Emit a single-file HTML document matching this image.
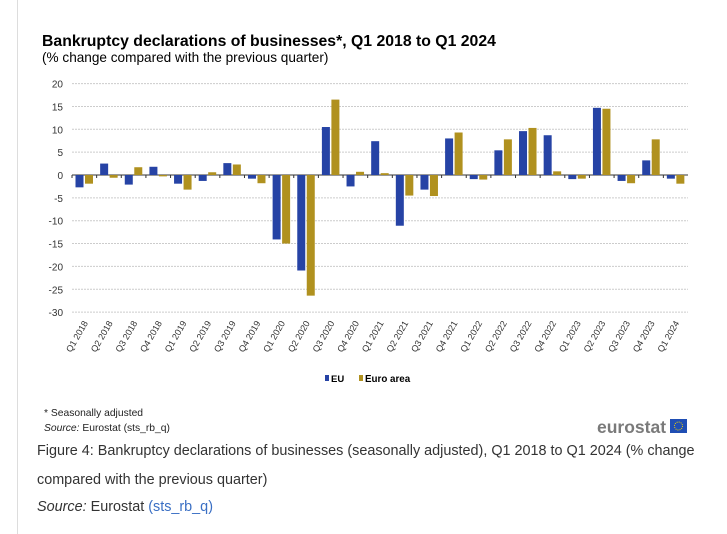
<!DOCTYPE html>
<html><head><meta charset="utf-8"><style>
body{margin:0;width:727px;height:534px;background:#fff;position:relative;overflow:hidden;font-family:"Liberation Sans",sans-serif}
.card{position:absolute;left:17px;top:0;width:709px;height:534px;border-left:1px solid #ddd}
.cap{position:absolute;left:37px;font-size:14.4px;color:#333;white-space:nowrap}
</style></head><body>
<div class="card"></div>
<svg id="c" width="727" height="440" style="position:absolute;left:0;top:0">
<text x="42" y="46" font-size="15.8" font-weight="bold" fill="#000">Bankruptcy declarations of businesses*, Q1 2018 to Q1 2024</text>
<text x="42" y="62" font-size="13.6" fill="#000">(% change compared with the previous quarter)</text>
<g id="grid"></g><g id="bars"></g><g id="xl"></g>
<g>
<rect x="325" y="375" width="4" height="6" fill="#2643a5"/>
<text x="331" y="382" font-size="9.5" font-weight="bold">EU</text>
<rect x="359" y="375" width="4" height="6" fill="#b0911f"/>
<text x="365" y="382" font-size="9.8" font-weight="bold">Euro area</text>
</g>
<text x="44" y="416" font-size="10.3" fill="#222">* Seasonally adjusted</text>
<text x="44" y="431" font-size="10.3" fill="#222"><tspan font-style="italic">Source:</tspan> Eurostat (sts_rb_q)</text>
<text x="597" y="433" font-size="17.5" font-weight="bold" fill="#7a7a7a">eurostat</text>
<rect x="670" y="419" width="17" height="14" fill="#1f4eb4"/>
<circle cx="678.5" cy="426" r="4" fill="none" stroke="#f5d200" stroke-width="1" stroke-dasharray="1 1.1"/>
</svg>
<div class="cap" style="top:443px">Figure 4: Bankruptcy declarations of businesses (seasonally adjusted), Q1 2018 to Q1 2024 (% change</div>
<div class="cap" style="top:472px">compared with the previous quarter)</div>
<div class="cap" style="top:499px"><i>Source:</i> Eurostat <span style="color:#3a6fc4">(sts_rb_q)</span></div>
<script>
const categories=["Q1 2018","Q2 2018","Q3 2018","Q4 2018","Q1 2019","Q2 2019","Q3 2019","Q4 2019","Q1 2020","Q2 2020","Q3 2020","Q4 2020","Q1 2021","Q2 2021","Q3 2021","Q4 2021","Q1 2022","Q2 2022","Q3 2022","Q4 2022","Q1 2023","Q2 2023","Q3 2023","Q4 2023","Q1 2024"];
const euValues=[-2.7,2.5,-2.1,1.8,-1.9,-1.3,2.6,-0.8,-14.1,-20.9,10.5,-2.5,7.4,-11.1,-3.2,8.0,-0.9,5.4,9.6,8.7,-0.9,14.7,-1.3,3.2,-0.8];
const euroValues=[-1.9,-0.6,1.7,-0.3,-3.2,0.6,2.3,-1.8,-15.0,-26.4,16.5,0.7,0.4,-4.5,-4.6,9.3,-1.0,7.8,10.3,0.8,-0.8,14.5,-1.8,7.8,-1.9];
const yTicks=[20,15,10,5,0,-5,-10,-15,-20,-25,-30];
const NS="http://www.w3.org/2000/svg";
const X0=72,X1=688,Y0=175,K=4.57;
const y=v=>Y0-v*K;
const step=(X1-X0)/categories.length;
const xc=i=>X0+i*step;
function mk(t,a,p){const e=document.createElementNS(NS,t);for(const k in a)e.setAttribute(k,a[k]);p.appendChild(e);return e;}
const g=document.getElementById('grid'),b=document.getElementById('bars'),xl=document.getElementById('xl');
yTicks.forEach(t=>{
 if(t!==0){const l=mk('line',{x1:X0,x2:X1,y1:y(t),y2:y(t),stroke:'#ccc','stroke-dasharray':'2 1','stroke-width':1},g);
 
 }
 const tx=mk('text',{x:63,y:y(t)+4,'font-size':10,'text-anchor':'end',fill:'#333'},g);tx.textContent=t;
 
 
});
categories.forEach((c,i)=>{
 const x=xc(i);
 const tk=mk('line',{x1:x,x2:x,y1:Y0,y2:Y0+3,stroke:'#333'},g);
 
 
 const v1=euValues[i],v2=euroValues[i];
 const r1=mk('rect',{x:x+3.5,y:Math.min(y(v1),Y0),width:8,height:Math.abs(v1*K),fill:'#2643a5'},b);
 
 
 const r2=mk('rect',{x:x+13,y:Math.min(y(v2),Y0),width:8,height:Math.abs(v2*K),fill:'#b0911f'},b);
 
 
 const lx=x+step/2+4,ly=323;
 const t=mk('text',{x:lx,y:ly,'font-size':9,'text-anchor':'end',fill:'#333',transform:`rotate(-60 ${lx} ${ly})`},xl);t.textContent=c;
 
 
});
const ax=mk('line',{x1:X0,x2:X1,y1:Y0,y2:Y0,stroke:'#333'},g);


</script>
</body></html>
